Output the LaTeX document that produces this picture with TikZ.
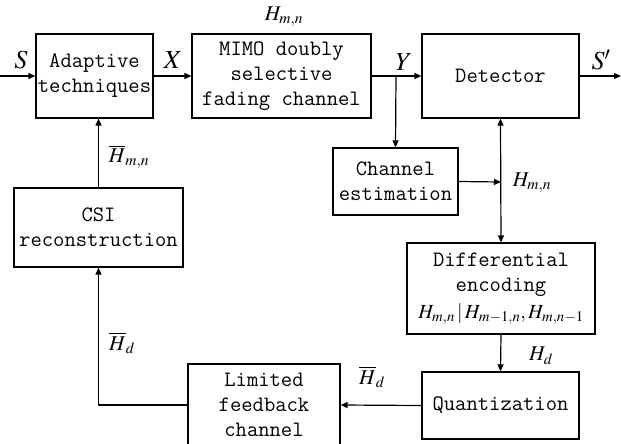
\documentclass[tikz,border=0pt]{standalone}
\usepackage{mathptmx}
\usetikzlibrary{arrows.meta}
\begin{document}
\begin{tikzpicture}[x=1pt,y=-1pt,
  blk/.style={draw,line width=1.2pt,inner sep=0pt,align=center,
    font=\ttfamily\fontsize{22}{25}\selectfont},
  conn/.style={line width=1.2pt,-{Triangle[length=7pt,width=6pt]}},
  lbl/.style={inner sep=0pt,font=\fontsize{21}{24}\selectfont},
  biglbl/.style={inner sep=0pt,font=\fontsize{26}{28}\selectfont}]
\useasboundingbox (0,0) rectangle (621,444);
\node[blk,minimum width=117pt,minimum height=84pt] (ada) at (94.5,76) {Adaptive\\techniques};
\node[blk,minimum width=179pt,minimum height=84pt] (mimo) at (281.5,76) {MIMO doubly\\selective\\fading channel};
\node[blk,minimum width=157pt,minimum height=84pt] (det) at (500.5,76) {Detector};
\node[blk,minimum width=125pt,minimum height=67pt] (est) at (395.5,181.5) {Channel\\estimation};
\node[blk,minimum width=188pt,minimum height=91pt] (diff) at (501,288.5) {Differential\\encoding\\[2pt]
  {\rmfamily\fontsize{20}{23}\selectfont$H_{m,n}\,|\,H_{m-1,n},H_{m,n-1}$}};
\node[blk,minimum width=157pt,minimum height=67pt] (quan) at (500.5,405.5) {Quantization};
\node[blk,minimum width=152pt,minimum height=82pt] (lim) at (264,405) {Limited\\feedback\\channel};
\node[blk,minimum width=169pt,minimum height=79pt] (csi) at (98.5,227.5) {CSI\\reconstruction};

\coordinate (sin) at (0,76);
\coordinate (sout) at (621,76);
\coordinate (ybr) at (396,76);
\coordinate (jn) at (501,182);

\draw[conn] (sin) -- (ada.west);
\draw[conn] (ada.east) -- (mimo.west);
\draw[conn] (mimo.east) -- (det.west);
\draw[conn] (det.east) -- (sout);
\draw[conn] (ybr) -- (est.north);
\draw[conn] (est.east) -- (jn);
\draw[line width=1.2pt,{Triangle[length=7pt,width=6pt]}-{Triangle[length=7pt,width=6pt]}] (det.south) -- (diff.north);
\draw[conn] (diff.south) -- (quan.north);
\draw[conn] (quan.west) -- (lim.east);
\draw[conn] (lim.west) -| (csi.south);
\draw[conn] (csi.north) -- (csi.north |- ada.south);

\node[biglbl] (ls) at (21,60) {$S$};
\node[biglbl] (lx) at (173,60) {$X$};
\node[lbl] (lh1) at (284,17) {$H_{m,n}$};
\node[biglbl] (ly) at (404,62) {$Y$};
\node[biglbl] (lsp) at (601,60) {$S'$};
\node[lbl] (lh2) at (532,183) {$H_{m,n}$};
\node[lbl] (lhb1) at (129,157) {$\overline{H}_{m,n}$};
\node[lbl] (lhb2) at (122,343) {$\overline{H}_{d}$};
\node[lbl] (lhd) at (541,356) {$H_{d}$};
\node[lbl] (lhb3) at (372,377) {$\overline{H}_{d}$};
\end{tikzpicture}
\end{document}
